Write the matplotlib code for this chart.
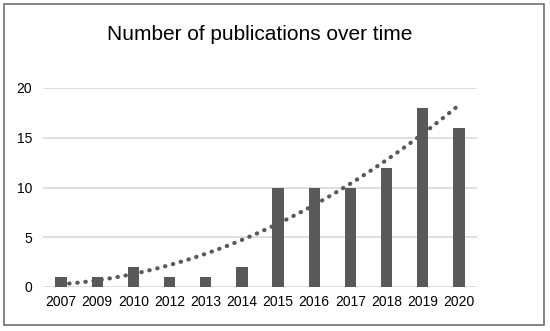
import numpy as np
import matplotlib.pyplot as plt
from matplotlib.patches import Rectangle

plt.rcParams['font.family'] = ['Liberation Sans', 'DejaVu Sans']

years = ['2007', '2009', '2010', '2012', '2013', '2014',
         '2015', '2016', '2017', '2018', '2019', '2020']
counts = [1, 1, 2, 1, 1, 2, 10, 10, 10, 12, 18, 16]
yticks = [0, 5, 10, 15, 20]

W, H = 550, 331
fig = plt.figure(figsize=(5.5, 3.31), dpi=100)
ax = fig.add_axes([43 / W, 1 - 287 / H, (477 - 43) / W, (287 - 88) / H])

x = np.arange(len(years))
ax.bar(x, counts, width=0.31, color='#595959', zorder=3)

# polynomial trendline (order 2), like Excel
xi = x + 1
coef = np.polyfit(xi, counts, 2)
xs = np.linspace(xi[0], xi[-1], 200)
ax.plot(xs - 1, np.polyval(coef, xs), color='#595959', lw=3.0,
        linestyle=(0, (0.1, 1.85)), dash_capstyle='round', zorder=4)

ax.set_xlim(-0.5, len(years) - 0.5)
ax.set_ylim(0, 20)
ax.set_yticks(yticks)
ax.set_xticks(x)
ax.set_xticklabels(years)
ax.grid(axis='y', color='#d9d9d9', lw=1.2, zorder=0)
for s in ax.spines.values():
    s.set_visible(False)
ax.tick_params(length=0, labelsize=10, colors='black', pad=8)
ax.tick_params(axis='x', pad=6)
ax.set_axisbelow(True)

fig.text(260 / W, 1 - 35 / H, 'Number of publications over time',
         ha='center', va='center', fontsize=15)

fig.patches.append(Rectangle((4 / W, 1 - 325 / H), 540 / W, 321 / H,
                             transform=fig.transFigure, fill=False,
                             edgecolor='#707070', lw=1.2))

fig.savefig('out.png', dpi=100)
